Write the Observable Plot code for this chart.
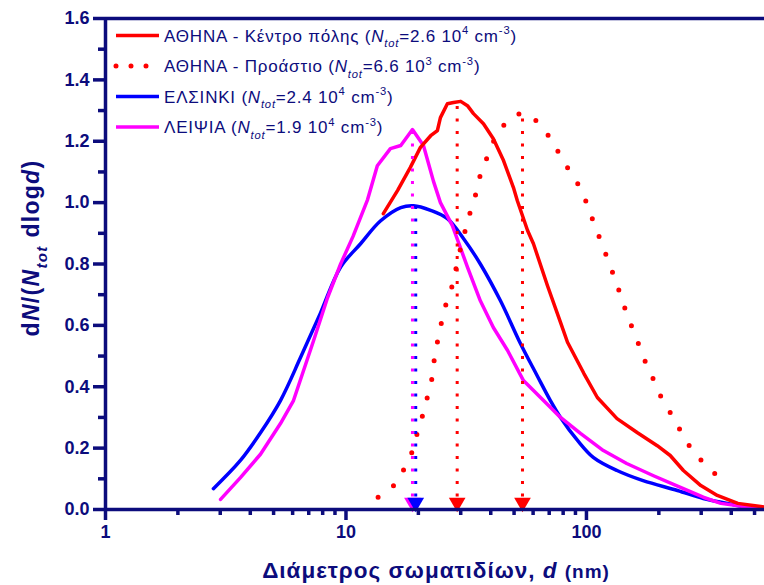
<!DOCTYPE html>
<html><head><meta charset="utf-8">
<script src="https://cdn.jsdelivr.net/npm/d3@7"></script>
<script src="https://cdn.jsdelivr.net/npm/@observablehq/plot@0.6"></script>
<style>body{margin:0;background:#fff} #chart{position:relative;width:764px;height:585px} text{white-space:pre}</style>
</head><body><div id="chart"></div>
<script>
// ---- data ----
const athCenterD = [14.3,16.4,18.5,20.4,22.5,24,24.7,26.4,28,30,32,33.9,37.3,41,45.2,49.7,51.6,56.9,60.2,68.8,78,83.4,97.6,111,134,163,197,223,253,299,350,426,530,550];
const athCenterY = [0.964,1.04,1.114,1.18,1.218,1.235,1.277,1.322,1.326,1.33,1.316,1.29,1.257,1.208,1.137,1.049,1.006,0.909,0.866,0.73,0.61,0.545,0.443,0.365,0.296,0.25,0.208,0.176,0.127,0.078,0.046,0.02,0.01,0.008];
const athSubD = [13.6,16.1,17.7,19.1,20,21.2,22,23,23.4,24.3,25.2,26.4,28,29,31.7,33.3,35.2,36.6,39.5,42.6,49.7,54.2,59.6,69.5,77,85.8,95.5,102,109,116.6,124.6,133,141,150,161,172,186,201,223,246,272,306,364];
const athSubY = [0.04,0.085,0.143,0.2,0.264,0.326,0.38,0.443,0.505,0.564,0.625,0.684,0.743,0.805,0.925,0.984,1.046,1.104,1.163,1.225,1.28,1.29,1.277,1.218,1.16,1.098,1.039,0.98,0.92,0.86,0.80,0.74,0.68,0.62,0.56,0.498,0.44,0.378,0.316,0.257,0.2,0.153,0.098];
const helD = [2.81,3.64,4.41,5.34,6.47,7.83,9.5,11.5,13.9,16.9,19.1,22.5,26.4,31,36.2,43.9,53.2,62,70.8,78,91.8,106.7,134,172,239,306,386,467,550];
const helY = [0.068,0.16,0.25,0.355,0.495,0.64,0.79,0.866,0.94,0.984,0.99,0.975,0.948,0.88,0.80,0.68,0.54,0.44,0.355,0.30,0.225,0.17,0.127,0.094,0.062,0.036,0.02,0.008,0.003];
const leiD = [3.01,3.64,4.41,5.34,6.05,7.33,8.38,9.5,10.7,12.3,13.5,15.3,16.9,18.9,21.0,23.1,24.7,27.7,32,36.2,41,47,54.7,66.3,78,94.4,117.6,147,190,246,306,362,450,545];
const leiY = [0.033,0.104,0.18,0.28,0.355,0.55,0.69,0.80,0.89,1.01,1.12,1.176,1.186,1.238,1.186,1.07,1.0,0.925,0.79,0.68,0.593,0.518,0.42,0.355,0.30,0.248,0.192,0.15,0.11,0.072,0.04,0.02,0.01,0.007];

// vertical arrows at the mode of each distribution
const arrowD = [18.9, 19.5, 29, 54.2];
const arrowTop = [1.24, 0.99, 1.33, 1.29];
const arrowColor = ["#ff00ff", "#0000ff", "#ff0000", "#ff0000"];

// legend
const seriesNames = ["ΑΘΗΝΑ - Κέντρο πόλης", "ΑΘΗΝΑ - Προάστιο", "ΕΛΣΙΝΚΙ", "ΛΕΙΨΙΑ"];
const ntotMant = ["2.6", "6.6", "2.4", "1.9"];
const ntotExp = ["4", "3", "4", "4"];
const seriesColor = ["#ff0000", "#ff0000", "#0000ff", "#ff00ff"];
const seriesDotted = [false, true, false, false];

// ticks
const yMajor = [0, 0.2, 0.4, 0.6, 0.8, 1.0, 1.2, 1.4, 1.6];
const yMinor = [0.1, 0.3, 0.5, 0.7, 0.9, 1.1, 1.3, 1.5];
const xMajor = [1, 10, 100];
const xMinor = [2,3,4,5,6,7,8,9,20,30,40,50,60,70,80,90,200,300,400,500];

const NAVY = "#0c0c7c";
const FONT = "'Liberation Sans', Arial, sans-serif";
const pts = (D, Y) => D.map((d, i) => ({d, y: Y[i]}));

const arrowMarks = arrowD.flatMap((d, i) => [
  Plot.ruleX([{d, top: arrowTop[i]}], {x: "d", y1: 0, y2: "top", stroke: arrowColor[i], strokeWidth: 3, strokeDasharray: "3 9.5"}),
  Plot.dot([{d}], {x: "d", y: 0, dy: -7, symbol: "triangle", rotate: 180, r: 6.2, fill: arrowColor[i], stroke: "none"})
]);

const plot = Plot.plot({
  width: 764, height: 585,
  marginLeft: 105, marginRight: 0, marginTop: 18, marginBottom: 76,
  style: {fontFamily: FONT, fontSize: "18px", fontWeight: "bold", color: NAVY, background: "white", overflow: "visible"},
  x: {type: "log", domain: [1, 550]},
  y: {domain: [0, 1.6]},
  marks: [
    Plot.axisY({ticks: yMajor, tickSize: 12, tickPadding: 4, tickFormat: d3.format(".1f"), strokeWidth: 3.5, label: null}),
    Plot.axisY({ticks: yMinor, tickSize: 7, tickFormat: () => "", strokeWidth: 3.5, label: null}),
    Plot.axisX({ticks: xMajor, tickSize: 11, tickPadding: 5, tickFormat: d3.format("d"), strokeWidth: 3.5, label: null}),
    Plot.axisX({ticks: xMinor, tickSize: 6, tickFormat: () => "", strokeWidth: 3.5, label: null}),
    Plot.line(pts(helD, helY), {x: "d", y: "y", stroke: "#0000ff", strokeWidth: 3.5, curve: "catmull-rom", clip: true}),
    Plot.line(pts(leiD, leiY), {x: "d", y: "y", stroke: "#ff00ff", strokeWidth: 3.5, clip: true}),
    Plot.line(pts(athCenterD, athCenterY), {x: "d", y: "y", stroke: "#ff0000", strokeWidth: 3.5, clip: true}),
    Plot.line(pts(athSubD, athSubY), {x: "d", y: "y", stroke: "#ff0000", strokeWidth: 5, strokeDasharray: "0 19", strokeLinecap: "round", curve: "catmull-rom", clip: true}),
    ...arrowMarks,
    Plot.ruleX([1], {stroke: NAVY, strokeWidth: 3.5}),
    Plot.ruleY([0], {stroke: NAVY, strokeWidth: 3.5}),
    Plot.ruleY([1.6], {stroke: NAVY, strokeWidth: 3.5})
  ]
});
document.getElementById("chart").appendChild(plot);

// rich text helper (italic, sub, sup) as real SVG text
function rich(textSel, segs, size) {
  let cur = 0;
  segs.forEach(s => {
    const off = s.sub ? 0.33 * size : s.sup ? -0.42 * size : 0;
    const fs = s.small ? s.small : (s.sub || s.sup) ? size * 0.66 : size;
    textSel.append("tspan")
      .attr("dy", off - cur)
      .attr("font-size", fs)
      .attr("font-style", s.i ? "italic" : null)
      .text(s.t);
    cur = off;
  });
}

const svg = d3.select(plot);
// legend
const lg = svg.append("g").attr("text-anchor", "start");
seriesNames.forEach((name, i) => {
  const yy = 35.5 + i * 30.5;
  lg.append("line").attr("x1", 116).attr("x2", 159).attr("y1", yy).attr("y2", yy)
    .attr("stroke", seriesColor[i]).attr("stroke-width", seriesDotted[i] ? 5 : 3.5)
    .attr("stroke-linecap", seriesDotted[i] ? "round" : "butt")
    .attr("stroke-dasharray", seriesDotted[i] ? "0 15" : null);
  const t = lg.append("text").attr("x", 164).attr("y", yy + 6)
    .attr("text-anchor", "start")
    .attr("fill", NAVY).attr("font-weight", "normal").attr("letter-spacing", "0.8px")
    .attr("font-family", FONT);
  rich(t, [
    {t: name + " ("}, {t: "N", i: true}, {t: "tot", i: true, sub: true},
    {t: "=" + ntotMant[i] + " 10"}, {t: ntotExp[i], sup: true}, {t: " cm"}, {t: "-3", sup: true}, {t: ")"}
  ], 17);
});

// y-axis title
const yt = svg.append("text").attr("transform", "translate(39,248) rotate(-90)")
  .attr("text-anchor", "middle").attr("fill", NAVY).attr("font-weight", "bold").attr("letter-spacing", "1.3px")
  .attr("font-family", FONT);
rich(yt, [{t: "d"}, {t: "N", i: true}, {t: "/("}, {t: "N", i: true}, {t: "tot", i: true, sub: true}, {t: " dlog"}, {t: "d", i: true}, {t: ")"}], 23);

// x-axis title
const xt = svg.append("text").attr("x", 436).attr("y", 578)
  .attr("text-anchor", "middle").attr("fill", NAVY).attr("font-weight", "bold").attr("letter-spacing", "1px")
  .attr("font-family", FONT);
rich(xt, [{t: "Διάμετρος σωματιδίων, "}, {t: "d", i: true}, {t: " "}, {t: "(nm)", small: 19}], 22.5);
</script>
</body></html>
